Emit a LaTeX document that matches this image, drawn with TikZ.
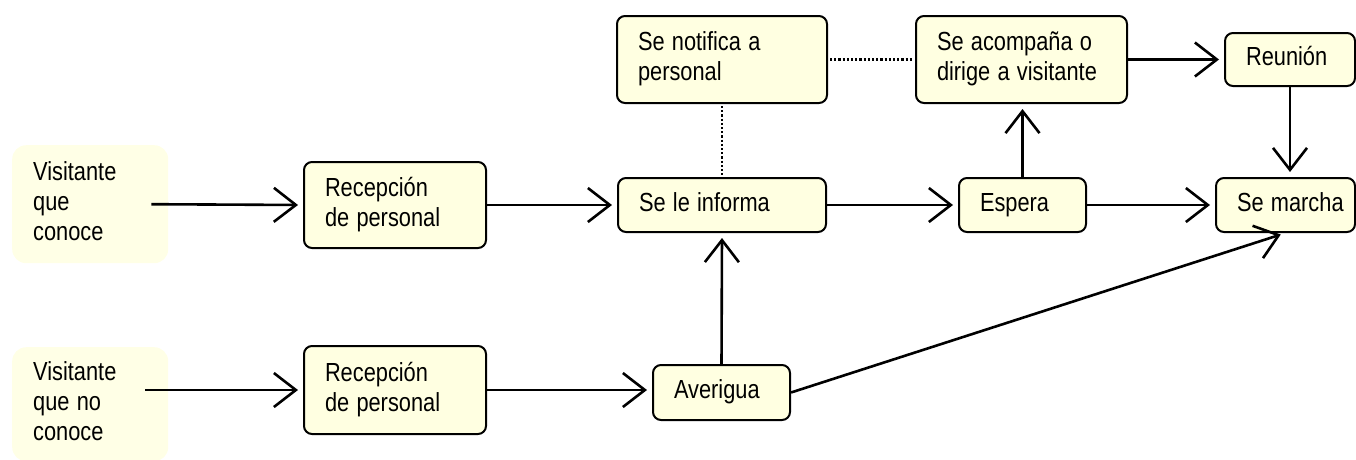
\documentclass[tikz,border=0pt]{standalone}
\usepackage{fontspec}
\setmainfont{Liberation Sans}
\usepackage{xcolor}
\usepackage{graphicx}
\usetikzlibrary{arrows.meta}
\definecolor{boxbg}{RGB}{255,255,225}
\definecolor{visitbg}{RGB}{255,255,230}
\definecolor{linescolor}{named}{black}
\newcommand{\myfont}{\fontsize{21.8}{25}\selectfont}
\newcommand{\etiqueta}[1]{\scalebox{1}[1.2]{\begin{tabular}{@{}l@{}}#1\end{tabular}}}
\tikzset{
	paso/.style={below right,draw=linescolor,line width=2pt,fill=boxbg,rounded corners=8pt,inner xsep=21pt,inner ysep=0pt,align=left,font=\myfont},
	visita/.style={below right,fill=visitbg,rounded corners=14pt,inner xsep=21pt,inner ysep=0pt,align=left,font=\myfont,text width=114pt},
	flecha/.style={-{Straight Barb[length=22pt,width=34pt]},line width=2.6pt,shorten >=5pt},
	punteado/.style={line width=2.2pt,dash pattern=on 2.2pt off 2pt,shorten >=2pt,shorten <=2pt}
}
\begin{document}
\begin{tikzpicture}[yscale=-1]

\useasboundingbox (0pt,0pt) rectangle (1356pt,459pt);

% visitantes
\node [visita,minimum height=118pt] (v1) at (12pt,145pt) {\etiqueta{Visitante\\que\\conoce}};
\node [visita,minimum height=114pt] (v2) at (12pt,347pt) {\etiqueta{Visitante\\que no\\conoce}};

% recepcion
\node [paso,text width=140pt,minimum height=86pt] (r1) at (303pt,161pt) {\etiqueta{Recepción\\de personal}};
\node [paso,text width=140pt,minimum height=88pt] (r2) at (303pt,345pt) {\etiqueta{Recepción\\de personal}};

% fila central
\node [paso,text width=166pt,minimum height=54pt] (info) at (617pt,177pt) {\etiqueta{Se le informa}};
\node [paso,text width=85pt,minimum height=54pt] (espera) at (958pt,177pt) {\etiqueta{Espera}};
\node [paso,text width=97pt,minimum height=54pt] (marcha) at (1215pt,177pt) {\etiqueta{Se marcha}};

% fila superior
\node [paso,text width=168pt,minimum height=87pt] (notif) at (616pt,15pt) {\etiqueta{Se notifica a\\personal}};
\node [paso,text width=169pt,minimum height=87pt] (acomp) at (915pt,15pt) {\etiqueta{Se acompaña o\\dirige a visitante}};
\node [paso,text width=88pt,minimum height=53pt] (reun) at (1224pt,32pt) {\etiqueta{Reunión}};

% fila inferior
\node [paso,text width=95pt,minimum height=55pt] (aver) at (652pt,364pt) {\etiqueta{Averigua}};

\coordinate (v1out) at ([xshift=-17pt]v1.east);
\path (v2.east |- r2.west) ++(-23pt,0pt) coordinate (v2out);

\draw [flecha] (v1out) -- (r1.west);
\draw [flecha] (r1.east) -- (info.west);
\draw [flecha] (info.east) -- (espera.west);
\draw [flecha] (espera.east) -- (marcha.west);
\draw [flecha] (espera.north) -- (espera.north |- acomp.south);
\draw [flecha] (acomp.east) -- (reun.west);
\draw [flecha] (reun.south) -- (reun.south |- marcha.north);

\draw [flecha] (v2out) -- (r2.west);
\draw [flecha] (r2.east) -- (r2.east -| aver.west);
\draw [flecha] (aver.north) -- (info.south);
\draw [flecha] (aver.east) -- (marcha.south);

% lineas punteadas
\draw [punteado] (notif.east) -- (acomp.west);
\draw [punteado] (notif.south) -- (info.north);
\end{tikzpicture}
\end{document}
